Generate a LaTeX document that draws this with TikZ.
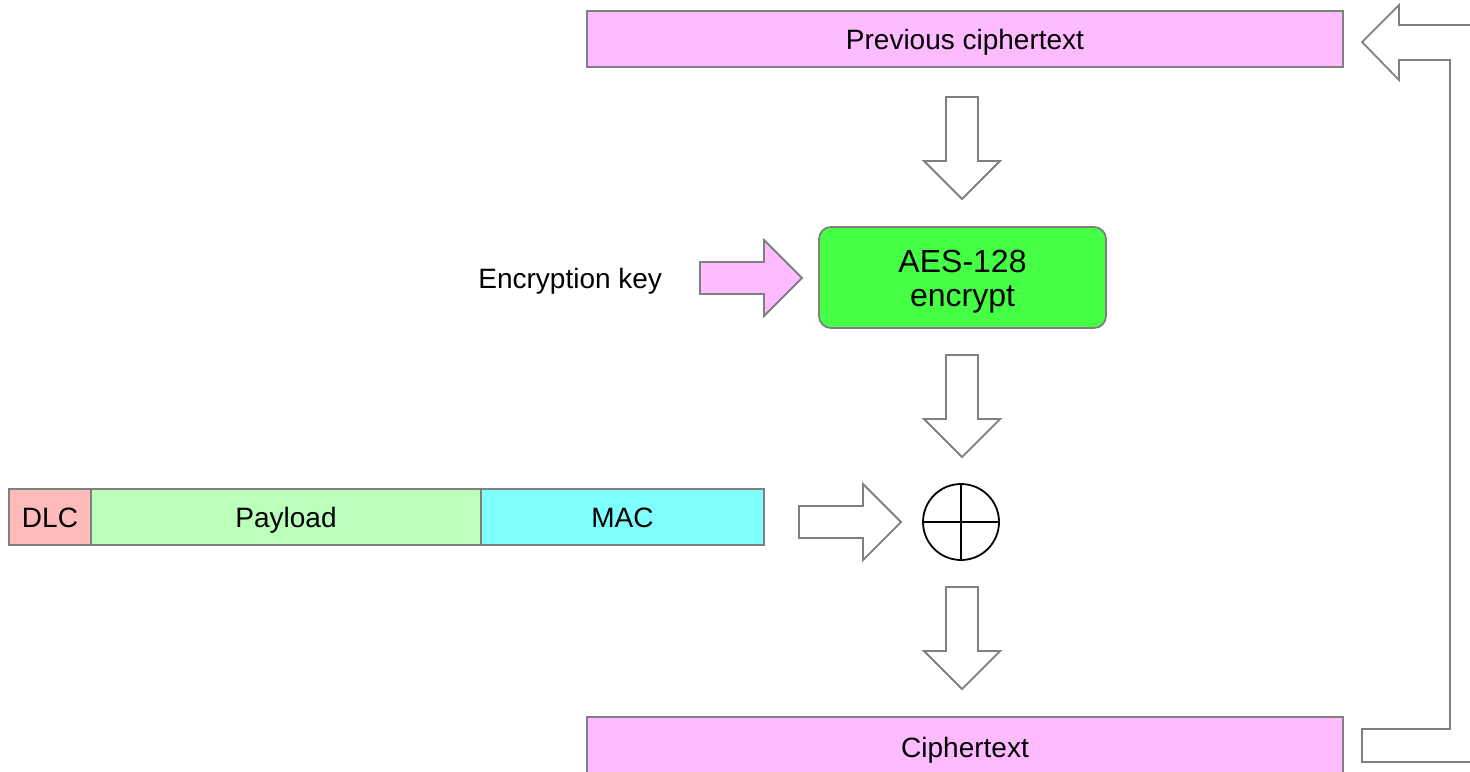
\documentclass[tikz,border=0pt]{standalone}
\usepackage{fontspec}
\setmainfont{Liberation Sans}
\usetikzlibrary{positioning}
\definecolor{cpink}{HTML}{FFBBFF}
\definecolor{cdlc}{HTML}{FFBBBB}
\definecolor{cpay}{HTML}{BBFFBB}
\definecolor{cmac}{HTML}{80FFFF}
\definecolor{caes}{HTML}{44FF44}
\definecolor{cgrey}{HTML}{808080}
\tikzset{
  every picture/.style={line width=0.9pt},
  every node/.style={font=\fontsize{14}{17.5}\selectfont, outer sep=0pt},
  field/.style={draw=cgrey, fill=#1, minimum height=28pt, inner sep=0pt, text height=10pt, text depth=0pt},
  field/.default=white,
  arrowline/.style={draw=cgrey, line join=miter},
  pics/blockarr/.style={code={
    \draw[arrowline, fill=#1] (0,-16) -- (64,-16) -- (64,-38) -- (102,0) -- (64,38) -- (64,16) -- (0,16) -- cycle;
  }},
  pics/blockarr/.default=white,
}
\begin{document}
\begin{tikzpicture}[x=0.5pt, y=-0.5pt]
  \useasboundingbox (0,0) rectangle (1470,771);
  % cipher blocks
  \node[field=cpink, minimum width=378pt] (ctprev) at (965,39) {Previous ciphertext};
  \node[field=cpink, minimum width=378pt, minimum height=30pt] (ct) at (965,747) {Ciphertext};
  \node[draw=cgrey, fill=caes, rounded corners=6pt, minimum width=143.5pt, minimum height=50.5pt,
    align=center, font=\fontsize{16}{17}\selectfont, text height=28.5pt, text depth=0pt] (aes) at (962.5,277.5) {AES-128\\encrypt};
  \node[anchor=east, inner sep=0pt, text height=10pt, text depth=0pt] (key) at (662,278) {Encryption key};
  \node[circle, draw=black, minimum size=38pt, inner sep=0pt] (xor) at (961,522) {};
  \draw (xor.north) -- (xor.south);
  \draw (xor.west) -- (xor.east);
  % frame
  \node[field=cdlc, minimum width=41pt] (dlc) at (50,517) {DLC};
  \node[field=cpay, minimum width=195pt, right=0pt of dlc] (payload) {Payload};
  \node[field=cmac, minimum width=141.5pt, right=0pt of payload] (mac) {MAC};
  % block arrows
  \pic (a1) at (962,97) [rotate=-90] {blockarr};
  \pic (a2) at (962,355) [rotate=-90] {blockarr};
  \pic (a3) at (962,587) [rotate=-90] {blockarr};
  \pic (a4) at (700,278) {blockarr=cpink};
  \pic (a5) at (799,522) {blockarr};
  % feedback
  \draw[arrowline] (1480,25) -- (1399,25) -- (1399,5) -- (1362,42) -- (1399,80) -- (1399,60)
    -- (1450,60) -- (1450,729) -- (1362,729) -- (1362,762) -- (1480,762);
\end{tikzpicture}
\end{document}
